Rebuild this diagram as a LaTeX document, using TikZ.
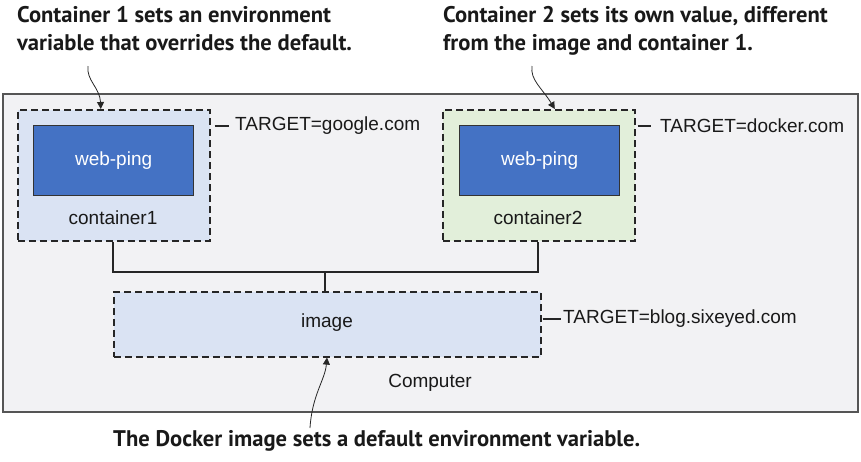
\documentclass[tikz,border=0pt]{standalone}
\usepackage{fontspec}
\setmainfont{Liberation Sans}
\newfontfamily\annfont{PT Sans}
\usetikzlibrary{arrows.meta}
\definecolor{bgc}{HTML}{F2F2F4}
\definecolor{bord}{HTML}{555555}
\definecolor{lblue}{HTML}{DAE3F3}
\definecolor{lgreen}{HTML}{E2EFDA}
\definecolor{wblue}{HTML}{4472C4}
\tikzset{
  dbox/.style={draw=black!85, dashed, dash pattern=on 7pt off 4pt, line width=1.6pt},
  appbox/.style={draw=black!80, fill=wblue, line width=1.2pt, text=white, font=\fontsize{19}{22}\selectfont},
  lbl/.style={font=\fontsize{19}{22}\selectfont, text=black!90, inner sep=0pt},
  conn/.style={draw=black!85, line width=1.2pt},
  ann/.style={font=\annfont\bfseries\fontsize{22.6}{28}\selectfont, align=left, inner sep=0pt, text=black!90},
  annarrow/.style={draw=black!85, line width=0.8pt, -{Triangle[length=7pt,width=7pt]}}
}
\begin{document}
\begin{tikzpicture}[x=1pt,y=-1pt]
\useasboundingbox (0,0) rectangle (861,461);
% computer box
\node[draw=bord, fill=bgc, line width=2pt, minimum width=855pt, minimum height=318pt, anchor=north west, inner sep=0pt] (computer) at (2,93) {};
\node[lbl] (comptxt) at (430,383) {Computer};
% container 1
\node[dbox, fill=lblue, minimum width=192pt, minimum height=131pt, anchor=north west, inner sep=0pt] (c1) at (17,109) {};
\node[appbox, minimum width=160pt, minimum height=70pt, anchor=north west, inner sep=0pt] (w1) at (33,125) {web-ping};
\node[lbl] (c1txt) at (113,218) {container1};
% container 2
\node[dbox, fill=lgreen, minimum width=192pt, minimum height=131pt, anchor=north west, inner sep=0pt] (c2) at (442,109) {};
\node[appbox, minimum width=160pt, minimum height=70pt, anchor=north west, inner sep=0pt] (w2) at (459,125) {web-ping};
\node[lbl] (c2txt) at (538,218) {container2};
% image
\node[dbox, fill=lblue, minimum width=427pt, minimum height=65pt, anchor=north west, inner sep=0pt] (img) at (113,291) {};
\node[lbl] (imgtxt) at (327,323) {image};
% target labels
\node[lbl, anchor=west] (t1) at (235,126) {TARGET=google.com};
\node[lbl, anchor=west] (t2) at (660,126) {TARGET=docker.com};
\node[lbl, anchor=west] (t3) at (563,319) {TARGET=blog.sixeyed.com};
\draw[conn] (c1.east |- t1.west) ++(4,0) -- ([xshift=-6pt]t1.west);
\draw[conn] (c2.east |- t2.west) ++(2,0) -- ([xshift=-9pt]t2.west);
\draw[conn] (img.east |- t3.west) ++(1,0) -- ([xshift=-2pt]t3.west);
% connectors
\coordinate (j) at (325,272);
\draw[conn] (c1.south -| c1txt) -- (c1txt |- j) -- (c2txt |- j) -- (c2.south -| c2txt);
\draw[conn] (j) -- (j |- img.north);
% annotations
\node[ann, anchor=north west] (a1) at (17,6) {Container 1 sets an environment\\variable that overrides the default.};
\node[ann, anchor=north west] (a2) at (443,6) {Container 2 sets its own value, different\\from the image and container 1.};
\node[ann, anchor=west] (a3) at (113,441) {The Docker image sets a default environment variable.};
\coordinate (s1) at (88,66);
\coordinate (s2) at (532,66);
\coordinate (s3) at (310,428);
\draw[annarrow] (s1) .. controls (86,80) and (100,88) .. ([xshift=-13pt]c1.north);
\draw[annarrow] (s2) .. controls (530,80) and (542,88) .. ([xshift=16pt]c2.north -| c2.north);
\draw[annarrow] (s3) .. controls (312,395) and (325,380) .. (img.south -| imgtxt);
\end{tikzpicture}
\end{document}
